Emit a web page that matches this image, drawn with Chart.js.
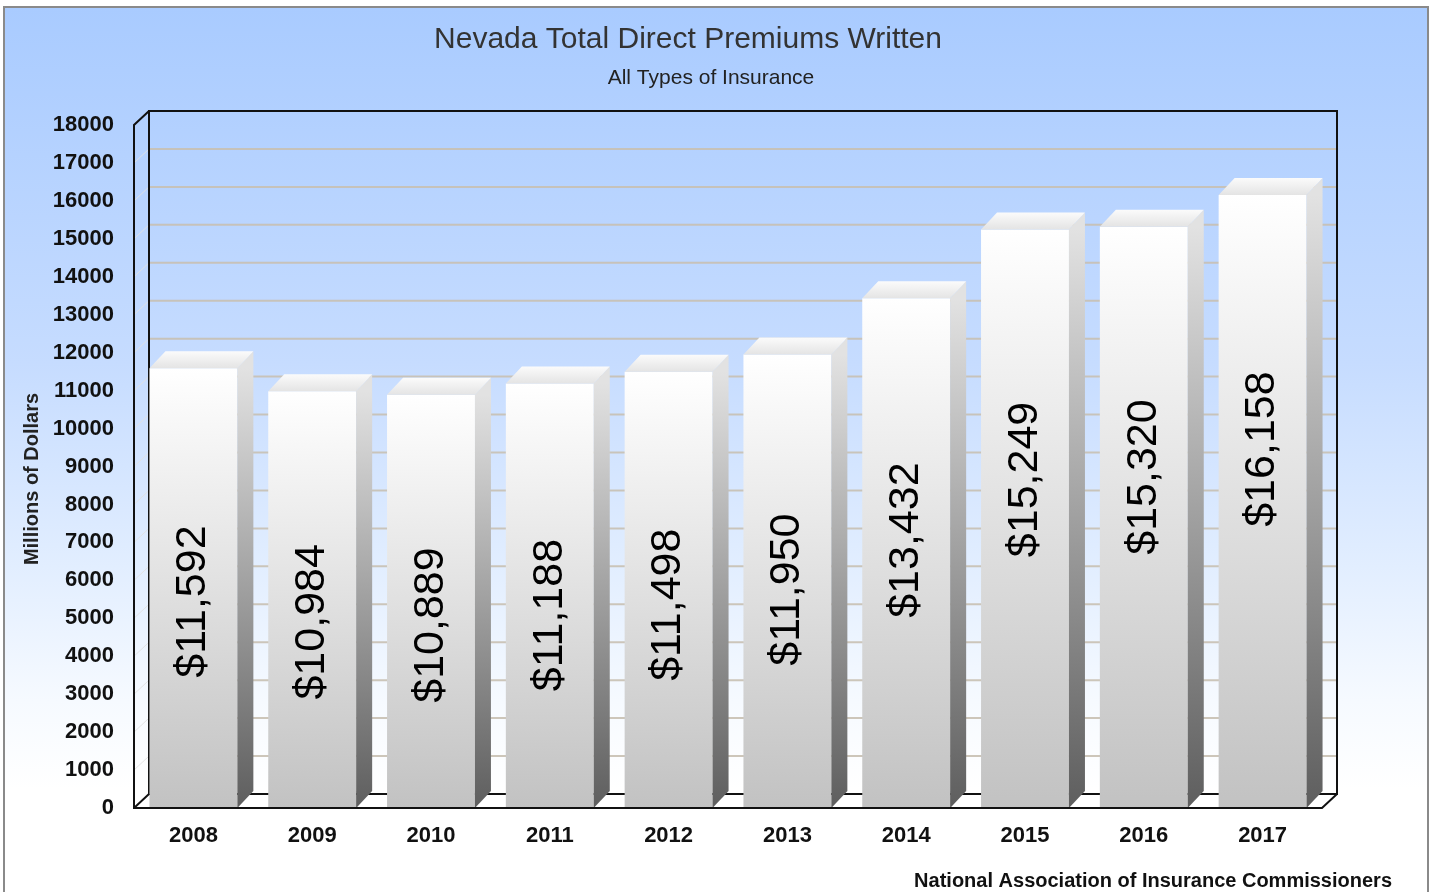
<!DOCTYPE html>
<html>
<head>
<meta charset="utf-8">
<title>Nevada Total Direct Premiums Written</title>
<script src="https://cdn.jsdelivr.net/npm/chart.js@4.4.1/dist/chart.umd.min.js"></script>
<style>
  html, body { margin: 0; padding: 0; background: #fff; }
  #frame {
    position: absolute; left: 3px; top: 6px; width: 1426px; height: 892px;
    box-sizing: border-box; border: 2px solid #8a8a8a;
    background: linear-gradient(to bottom, #a9cbff 0%, #c6dcff 40%, #e2eeff 63%, #f6faff 78%, #ffffff 88%);
  }
  #chart { position: absolute; left: 0; top: 0; }
</style>
</head>
<body>
<div id="frame"></div>
<canvas id="chart" width="1430" height="892"></canvas>
<script>
const years = ["2008", "2009", "2010", "2011", "2012", "2013", "2014", "2015", "2016", "2017"];
const premiums = [11592, 10984, 10889, 11188, 11498, 11950, 13432, 15249, 15320, 16158];
const yMax = 18000;
const yStep = 1000;

const titleText = "Nevada Total Direct Premiums Written";
const subtitleText = "All Types of Insurance";
const yTitleText = "Millions of Dollars";
const sourceText = "National Association of Insurance Commissioners";

const FONT = "'Liberation Sans', Arial, sans-serif";

// depth of the box walls and of the bars
const DX = 15, DY = 14;
const BX = 16, BY = 17;

const money = v => "$" + v.toLocaleString("en-US");

//========================================================================
const frontGradient = c => {
  const chart = c.chart;
  if (!chart.chartArea || c.raw == null) return "#e8e8e8";
  const ys = chart.scales.y;
  const g = chart.ctx.createLinearGradient(0, ys.getPixelForValue(c.raw), 0, ys.getPixelForValue(0));
  g.addColorStop(0, "#ffffff");
  g.addColorStop(1, "#c2c2c2");
  return g;
};

//========================================================================
const box3d = {
  id: "box3d",
  beforeDatasetsDraw(chart) {
    const { ctx, chartArea: a, scales: { y } } = chart;
    ctx.save();

    // floor
    ctx.fillStyle = "#ffffff";
    ctx.beginPath();
    ctx.moveTo(a.left, a.bottom);
    ctx.lineTo(a.right, a.bottom);
    ctx.lineTo(a.right + DX, a.bottom - DY);
    ctx.lineTo(a.left + DX, a.bottom - DY);
    ctx.closePath();
    ctx.fill();

    // grid on back wall and left wall
    for (let v = yStep; v < yMax; v += yStep) {
      const py = y.getPixelForValue(v);
      ctx.strokeStyle = "rgba(200,192,178,0.9)";
      ctx.lineWidth = 2;
      ctx.beginPath();
      ctx.moveTo(a.left + DX, py - DY);
      ctx.lineTo(a.right + DX, py - DY);
      ctx.stroke();
      ctx.strokeStyle = "rgba(225,225,225,0.9)";
      ctx.lineWidth = 1;
      ctx.beginPath();
      ctx.moveTo(a.left, py);
      ctx.lineTo(a.left + DX, py - DY);
      ctx.stroke();
    }

    // back box edges
    ctx.strokeStyle = "#111";
    ctx.lineWidth = 2;
    ctx.beginPath();
    ctx.moveTo(a.left + DX, a.bottom - DY);
    ctx.lineTo(a.left + DX, a.top - DY);
    ctx.lineTo(a.right + DX, a.top - DY);
    ctx.lineTo(a.right + DX, a.bottom - DY);
    ctx.lineTo(a.left + DX, a.bottom - DY);
    ctx.stroke();
    ctx.restore();
  },

  afterDatasetsDraw(chart) {
    const { ctx, chartArea: a, scales: { y } } = chart;
    const meta = chart.getDatasetMeta(0);
    ctx.save();

    meta.data.forEach((bar, i) => {
      const { x, y: top, base, width } = bar.getProps(["x", "y", "base", "width"], true);
      const l = x - width / 2, r = x + width / 2;

      // side face
      const gs = ctx.createLinearGradient(0, top, 0, base);
      gs.addColorStop(0, "#e2e2e2");
      gs.addColorStop(1, "#5e5e5e");
      ctx.fillStyle = gs;
      ctx.beginPath();
      ctx.moveTo(r, top);
      ctx.lineTo(r + BX, top - BY);
      ctx.lineTo(r + BX, base - BY);
      ctx.lineTo(r, base);
      ctx.closePath();
      ctx.fill();

      // top face
      const gt = ctx.createLinearGradient(0, top - BY, 0, top);
      gt.addColorStop(0, "#fbfbfb");
      gt.addColorStop(1, "#e4e4e4");
      ctx.fillStyle = gt;
      ctx.beginPath();
      ctx.moveTo(l, top);
      ctx.lineTo(l + BX, top - BY);
      ctx.lineTo(r + BX, top - BY);
      ctx.lineTo(r, top);
      ctx.closePath();
      ctx.fill();

      // value label, rotated inside the bar
      const v = premiums[i];
      const ly = y.getPixelForValue(0.88 * v - 4760);
      ctx.save();
      ctx.translate(x, ly);
      ctx.rotate(-Math.PI / 2);
      ctx.fillStyle = "#000";
      ctx.font = "43px " + FONT;
      ctx.textAlign = "center";
      ctx.textBaseline = "middle";
      ctx.fillText(money(v), 0, 0);
      ctx.restore();
    });

    // front edges
    ctx.strokeStyle = "#111";
    ctx.lineWidth = 2;
    ctx.beginPath();
    ctx.moveTo(a.left + DX, a.top - DY);
    ctx.lineTo(a.left, a.top);
    ctx.lineTo(a.left, a.bottom);
    ctx.lineTo(a.right, a.bottom);
    ctx.lineTo(a.right + DX, a.bottom - DY);
    ctx.moveTo(a.left, a.bottom);
    ctx.lineTo(a.left + DX, a.bottom - DY);
    ctx.stroke();
    ctx.restore();
  },

  afterDraw(chart) {
    const { ctx } = chart;
    ctx.save();
    ctx.textBaseline = "alphabetic";

    ctx.fillStyle = "#333";
    ctx.textAlign = "center";
    ctx.font = "30px " + FONT;
    ctx.fillText(titleText, 688, 48);
    ctx.font = "21px " + FONT;
    ctx.fillStyle = "#222";
    ctx.fillText(subtitleText, 711, 84);

    ctx.font = "bold 20px " + FONT;
    ctx.textAlign = "right";
    ctx.fillStyle = "#111";
    ctx.fillText(sourceText, 1392, 887);

    ctx.translate(32, 479);
    ctx.rotate(-Math.PI / 2);
    ctx.textAlign = "center";
    ctx.textBaseline = "middle";
    ctx.font = "bold 20px " + FONT;
    ctx.fillStyle = "#222";
    ctx.fillText(yTitleText, 0, 0);
    ctx.restore();
  }
};

//========================================================================
new Chart(document.getElementById("chart"), {
  type: "bar",
  data: {
    labels: years,
    datasets: [{
      label: "Premiums",
      data: premiums,
      backgroundColor: frontGradient,
      borderWidth: 0,
      barPercentage: 0.74,
      categoryPercentage: 1
    }]
  },
  options: {
    responsive: false,
    animation: false,
    devicePixelRatio: 1,
    layout: { padding: { top: 125, right: 108, left: 0, bottom: 0 } },
    plugins: {
      legend: { display: false },
      tooltip: { enabled: false },
      title: { display: false }
    },
    scales: {
      x: {
        grid: { display: false },
        border: { display: false },
        ticks: { color: "#111", padding: 7, font: { family: FONT, size: 22, weight: "bold" } },
        afterFit: s => { s.height = 84; }
      },
      y: {
        min: 0,
        max: yMax,
        grid: { display: false },
        border: { display: false },
        ticks: {
          stepSize: yStep,
          color: "#111",
          padding: 12,
          font: { family: FONT, size: 22, weight: "bold" },
          callback: v => String(v)
        },
        afterFit: s => { s.width = 134; }
      }
    }
  },
  plugins: [box3d]
});
</script>
</body>
</html>
